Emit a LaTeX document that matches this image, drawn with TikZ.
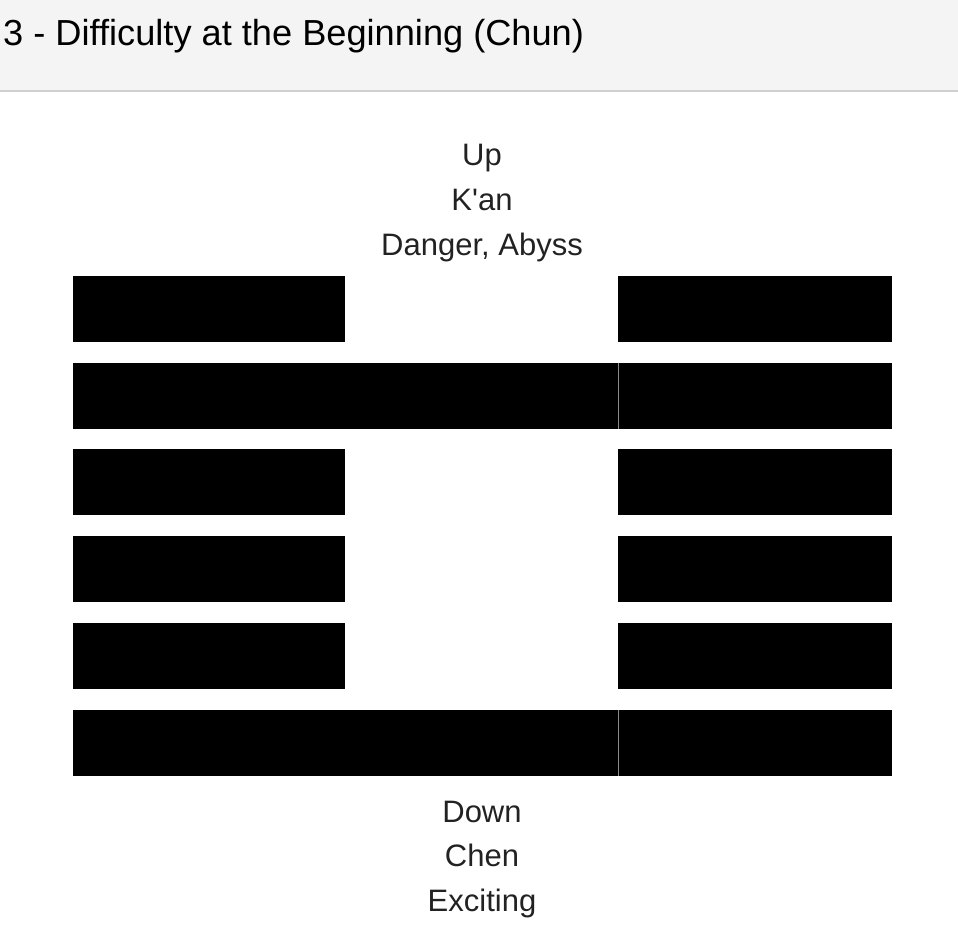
\documentclass[tikz,border=0pt]{standalone}
\usepackage{fontspec}
\setmainfont{Liberation Sans}[Ligatures=TeXOff]
\definecolor{headbg}{HTML}{F4F4F4}
\definecolor{headrule}{HTML}{D0D0D0}
\definecolor{txt}{HTML}{222222}
\definecolor{seam}{HTML}{8A8A8A}
\begin{document}
\begin{tikzpicture}[x=1bp,y=-1bp,
  titletext/.style={anchor=base west,inner sep=0pt,text=black,font=\fontsize{36.2bp}{40bp}\selectfont},
  label/.style={anchor=base,inner sep=0pt,text=txt,font=\fontsize{31bp}{36bp}\selectfont},
  barfill/.style={fill=black},
  seamline/.style={draw=seam,line width=0.8bp}]
\useasboundingbox (0,0) rectangle (958,940);
\fill[headbg] (0,0) rectangle (958,89.5);
\fill[headrule] (0,89.5) rectangle (958,91.5);
\node[titletext] (title) at (3,45.7) {3 - Difficulty at the Beginning (Chun)};
% upper labels
\node[label] (up1) at (482,165) {Up};
\node[label] (up2) at (482,210) {K'an};
\node[label] (up3) at (482,255) {Danger, Abyss};
% broken (yin) lines
\foreach \t in {275.7, 449.3, 536.1, 622.9}{
  \fill[barfill] (72.5,\t) rectangle (345,\t+66);
  \fill[barfill] (618.3,\t) rectangle (891.7,\t+66);
}
% solid (yang) lines
\foreach \t in {362.5, 709.7}{
  \fill[barfill] (72.5,\t) rectangle (891.7,\t+66);
  \draw[seamline] (617.9,\t) -- (617.9,\t+66);
}
% lower labels
\node[label] (dn1) at (482,822.3) {Down};
\node[label] (dn2) at (482,866.7) {Chen};
\node[label] (dn3) at (482,911.7) {Exciting};
\end{tikzpicture}
\end{document}
